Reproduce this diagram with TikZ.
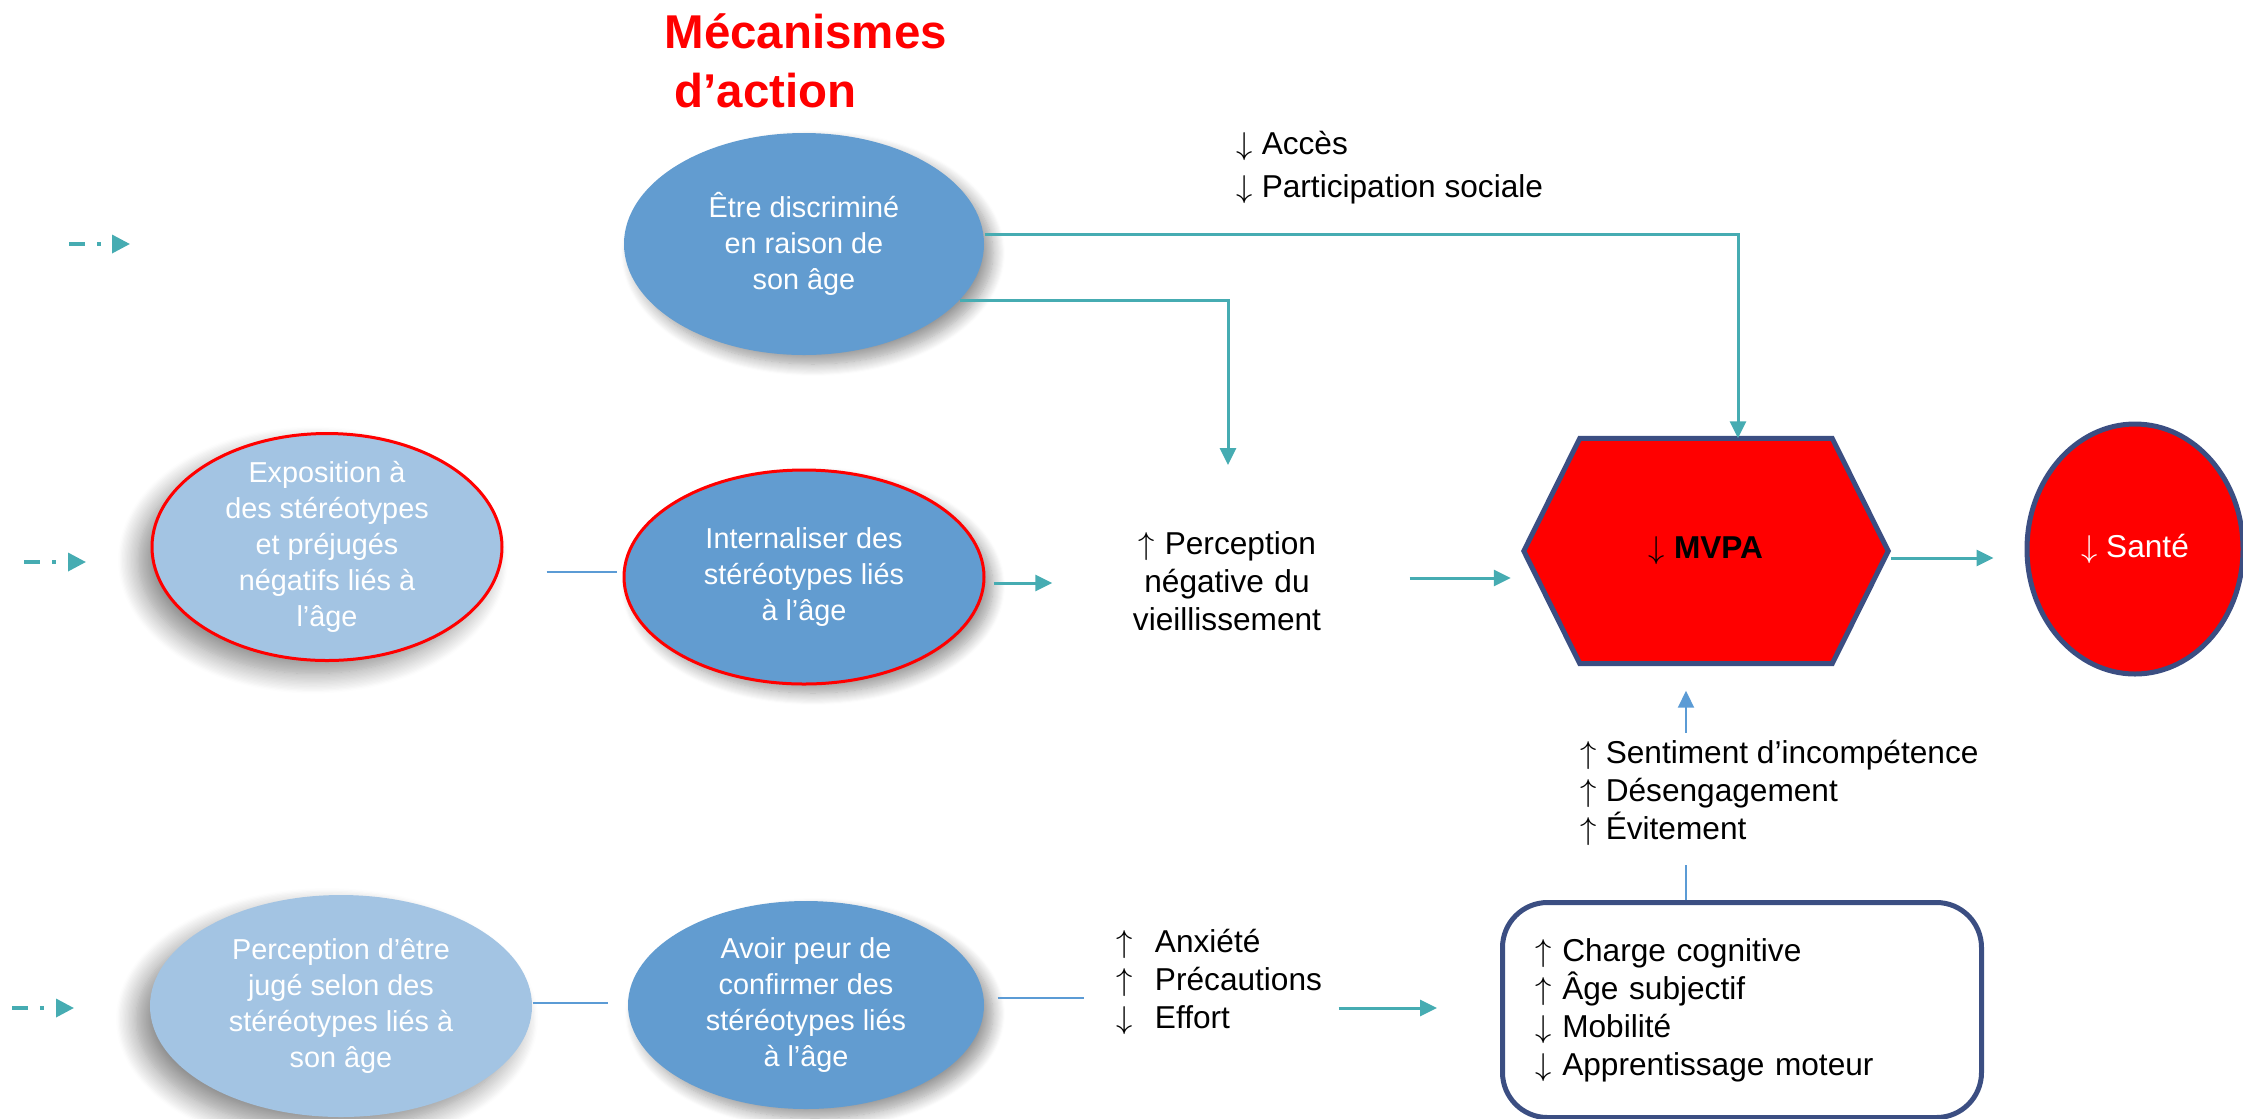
\documentclass[tikz,border=0pt]{standalone}
\usepackage{fontspec}
\setmainfont{Liberation Sans}
\usetikzlibrary{shapes.geometric,calc,arrows.meta,positioning,backgrounds,shadows.blur}
\definecolor{stblue}{RGB}{98,156,208}
\definecolor{ltblue}{RGB}{163,196,227}
\definecolor{tealarr}{RGB}{70,172,178}
\definecolor{navyline}{RGB}{59,78,130}
\definecolor{lnblue}{RGB}{91,155,213}
\newcommand{\up}{$\uparrow$}
\newcommand{\dn}{$\downarrow$}

\begin{document}
\begin{tikzpicture}[x=0.1mm,y=-0.1mm, every node/.style={font=\fontsize{9}{10.8}\selectfont, inner sep=0pt},
    bubble/.style={ellipse, fill=stblue, text=white, align=center, inner sep=-2mm, font=\fontsize{8.2}{10.2}\selectfont},
    darkshadow/.style={blur shadow={shadow xshift=0.9mm, shadow yshift=-0.9mm, shadow blur radius=1.2mm, shadow blur steps=12}},
    greyshadow/.style={blur shadow={shadow xshift=-1.4mm, shadow yshift=-1.3mm, shadow blur radius=2mm, shadow blur steps=16, shadow opacity=45}},
    tarrow/.style={-{Triangle[length=1.7mm,width=1.6mm]}, tealarr, line width=0.3mm},
    bline/.style={lnblue, line width=0.2mm},
    inarrow/.style={-{Triangle[length=1.8mm,width=1.8mm]}, tealarr, line width=0.35mm, dash pattern=on 1.6mm off 1.2mm on 0.4mm off 1.2mm}]
    \useasboundingbox (0,0) rectangle (2243,1118);

    \node[red, anchor=north west, align=left, font=\bfseries\fontsize{13.5}{16.8}\selectfont] (titre) at (664,13) {Mécanismes\\\hspace{1mm}d’action};

    \node[bubble, darkshadow, minimum width=36mm, minimum height=22.2mm] (ete) at (804,244) {Être discriminé\\en raison de\\son âge};
    \node[bubble, greyshadow, fill=ltblue, draw=red, line width=0.3mm, minimum width=35mm, minimum height=22.7mm] (expo) at (327,547) {Exposition à\\des stéréotypes\\et préjugés\\négatifs liés à\\l’âge};
    \node[bubble, darkshadow, draw=red, line width=0.3mm, minimum width=36mm, minimum height=21.4mm] (intern) at (804,577) {Internaliser des\\stéréotypes liés\\à l’âge};
    \node[bubble, greyshadow, fill=ltblue, minimum width=38.2mm, minimum height=22.2mm] (juge) at (341,1006) {Perception d’être\\jugé selon des\\stéréotypes liés à\\son âge};
    \node[bubble, darkshadow, minimum width=35.6mm, minimum height=20.8mm] (avoir) at (806,1005) {Avoir peur de\\confirmer des\\stéréotypes liés\\à l’âge};

    \node[minimum width=36.3mm, minimum height=22.4mm] (mvpa) at (1706,551) {\dn\ \textbf{MVPA}};
    \begin{scope}[on background layer]
        \draw[navyline, line width=0.5mm, fill=red] (mvpa.west) -- ($(mvpa.north west)+(56,0)$) -- ($(mvpa.north east)+(-56,0)$) -- (mvpa.east) -- ($(mvpa.south east)+(-56,0)$) -- ($(mvpa.south west)+(56,0)$) -- cycle;
    \end{scope}
    \node[ellipse, fill=red, draw=navyline, line width=0.5mm, text=white, minimum width=21.6mm, minimum height=25mm] (sante) at (2135,549) {\dn\ Santé};

    \node[anchor=west, align=left, font=\fontsize{9}{12.2}\selectfont] (acces) at (1236,168) {\dn\ Accès\\\dn\ Participation sociale};
    \node[align=center, text width=22mm] (perc) at (1227,581) {\up\ Perception\\négative du\\vieillissement};
    \node[anchor=west, align=left] (sent) at (1580,793) {\up\ Sentiment d’incompétence\\\up\ Désengagement\\\up\ Évitement};
    \node[anchor=west, align=left] (anx) at (1116,982) {\up\hspace{2.2mm}Anxiété\\\up\hspace{2.2mm}Précautions\\\dn\hspace{2.2mm}Effort};
    \node[draw=navyline, line width=0.5mm, rounded corners=4.5mm, minimum width=47.9mm, minimum height=21.5mm, text width=41.3mm, inner xsep=3.3mm, align=left] (box) at (1742,1010) {\up\ Charge cognitive\\\up\ Âge subjectif\\\dn\ Mobilité\\\dn\ Apprentissage moteur};

    \coordinate (in1) at (69,244);
    \coordinate (in1e) at (130,244);
    \coordinate (in2) at (24,562);
    \coordinate (in2e) at (86,562);
    \coordinate (in3) at (12,1008);
    \coordinate (in3e) at (74,1008);
    \coordinate (percin) at (1228,465);
    \draw[inarrow] (in1) -- (in1e);
    \draw[inarrow] (in2) -- (in2e);
    \draw[inarrow] (in3) -- (in3e);

    \draw[tarrow] ($(ete.east)+(0,-10)$) -| ($(mvpa.north)+(32,0)$);
    \draw[tarrow] (ete.-20) -| (percin);
    \draw[bline] ($(expo.east |- intern.west)+(43,-5)$) -- ($(intern.west)+(-6,-5)$);
    \draw[tarrow] ($(intern.east)+(8,6)$) -- ($(perc.west |- intern.east)+(-64,6)$);
    \draw[tarrow] ($(perc.east)+(72,-3)$) -- ($(perc.east -| mvpa.west)+(-13,-3)$);
    \draw[tarrow] ($(mvpa.east)+(3,7)$) -- ($(sante.west |- mvpa.east)+(-31,7)$);
    \draw[bline] ($(box.north)+(-56,0)$) -- ($(sent.south -| box.north)+(-56,19)$);
    \draw[tarrow, lnblue, line width=0.2mm] ($(sent.north -| box.north)+(-56,-7)$) -- ($(mvpa.south)+(-20,27)$);
    \draw[bline] ($(juge.east)+(0,-3)$) -- ($(avoir.west |- juge.east)+(-19,-3)$);
    \draw[bline] ($(avoir.east)+(13,-7)$) -- ($(avoir.east -| anx.west)+(-32,-7)$);
    \draw[tarrow] ($(anx.east)+(16,26)$) -- ($(anx.east -| box.west)+(-63,26)$);
\end{tikzpicture}
\end{document}
